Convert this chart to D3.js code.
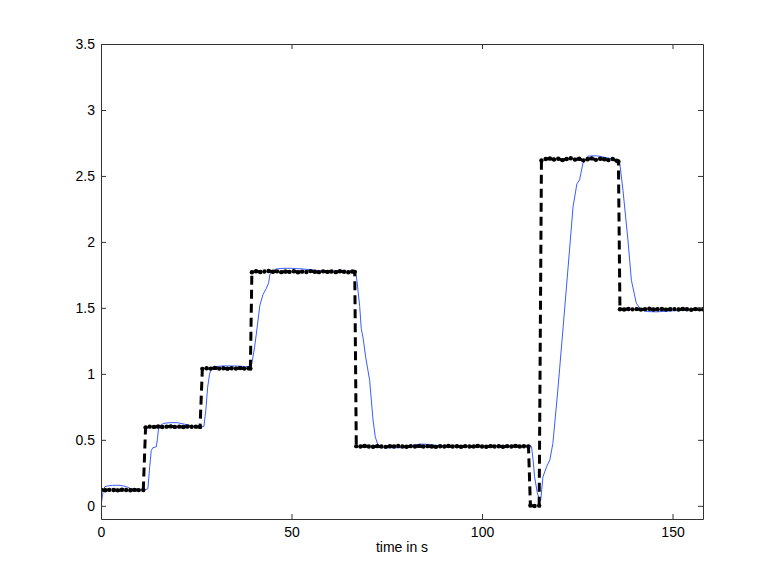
<!DOCTYPE html>
<html>
<head>
<meta charset="utf-8">
<script src="https://cdn.jsdelivr.net/npm/d3@7"></script>
<style>
  body { margin: 0; background: #fff; }
  svg { font-family: "Liberation Sans", Arial, Helvetica, sans-serif; }
</style>
</head>
<body>
<div id="chart"></div>
<script>
// measured output (blue), [time, value]
var output = [
    [0,0],[0.5,0.1],[1,0.145],[2,0.152],[3,0.155],[4,0.156],[5,0.155],[6,0.15],[7,0.14],[8,0.128],
    [9,0.122],[10,0.12],[11.5,0.12],[12.3,0.13],[12.8,0.3],[13.2,0.42],[13.6,0.44],[14.5,0.447],[14.8,0.5],
    [15.1,0.587],[15.6,0.61],[16.5,0.625],[18,0.63],[20,0.63],[22,0.618],[24,0.605],[26,0.6],[27,0.6],
    [27.5,0.72],[28,0.9],[28.5,1.0],[29,1.04],[30,1.055],[32,1.06],[35,1.06],[38,1.055],[39.3,1.05],
    [39.6,1.08],[40.3,1.2],[40.8,1.31],[41.7,1.52],[42.5,1.6],[43.4,1.648],[44,1.69],[44.3,1.75],[45,1.78],
    [46,1.795],[48,1.8],[50,1.8],[53,1.795],[56,1.785],[60,1.78],[64,1.778],[66.8,1.775],[67.2,1.7],
    [67.9,1.51],[68.3,1.345],[68.8,1.27],[69.5,1.12],[70.5,0.953],[71.4,0.65],[72,0.52],[72.7,0.46],
    [73.5,0.445],[75,0.44],[78,0.44],[80,0.443],[82,0.46],[84,0.468],[86,0.465],[88,0.458],[92,0.455],
    [100,0.455],[108,0.455],[112.8,0.455],[113,0.447],[113.4,0.35],[113.8,0.22],[114.5,0.1],[115.1,0.043],
    [115.4,0.04],[116,0.22],[117,0.3],[117.8,0.347],[118.6,0.473],[119.9,0.877],[121.3,1.357],[122.6,1.81],
    [123.9,2.267],[124.9,2.44],[125.6,2.47],[126.5,2.596],[127.8,2.65],[130,2.653],[133.5,2.634],
    [135.5,2.62],[136.1,2.61],[137,2.39],[138.3,2.015],[139.2,1.71],[140.5,1.535],[141.8,1.484],
    [143.5,1.472],[145.8,1.47],[150,1.478],[155,1.485],[158,1.49]
];

// reference samples (black, dashed with dots), [time, value]
var reference = [
    [0,.122],[1.1,.118],[2.2,.121],[3.3,.12],[4.4,.117],[5.5,.122],[6.6,.12],[7.7,.118],[8.8,.121],[9.9,.119],[11.1,.12],
    [11.7,.593],[12.8,.6],[13.9,.598],[15.0,.601],[16.1,.597],[17.2,.6],[18.3,.602],[19.4,.598],[20.5,.6],[21.6,.597],
    [22.7,.601],[23.8,.599],[24.9,.6],[26.0,.598],
    [26.6,1.038],[27.7,1.042],[28.8,1.04],[29.9,1.045],[31.0,1.04],[32.1,1.043],[33.2,1.039],[34.3,1.042],[35.4,1.04],
    [36.5,1.044],[37.6,1.04],[38.7,1.042],[39.2,1.04],
    [39.6,1.77],[40.7,1.778],[41.8,1.772],[42.9,1.776],[44.0,1.78],[45.1,1.774],[46.2,1.777],[47.3,1.771],[48.4,1.776],
    [49.5,1.773],[50.6,1.778],[51.7,1.77],[52.8,1.775],[53.9,1.772],[55.0,1.779],[56.1,1.774],[57.2,1.771],[58.3,1.777],
    [59.4,1.773],[60.5,1.776],[61.6,1.771],[62.7,1.778],[63.8,1.774],[64.9,1.77],[66.0,1.776],[66.6,1.773],
    [67.0,.452],[68.1,.449],[69.2,.453],[70.3,.45],[71.4,.448],[72.5,.452],[73.6,.45],[74.7,.447],[75.8,.451],[76.9,.449],
    [78.0,.453],[79.1,.45],[80.2,.448],[81.3,.452],[82.4,.45],[83.5,.454],[84.6,.449],[85.7,.452],[86.8,.45],[87.9,.447],
    [89.0,.451],[90.1,.45],[91.2,.453],[92.3,.449],[93.4,.451],[94.5,.448],[95.6,.452],[96.7,.45],[97.8,.449],[98.9,.453],
    [100.0,.45],[101.1,.448],[102.2,.452],[103.3,.45],[104.4,.451],[105.5,.448],[106.6,.452],[107.7,.45],[108.8,.453],
    [109.9,.449],[111.0,.451],[112.2,.45],
    [112.7,0.002],[113.8,-0.002],[115.0,0.001],
    [115.6,2.618],[116.7,2.628],[117.8,2.632],[118.9,2.625],[120.0,2.63],[121.1,2.62],[122.2,2.628],[123.3,2.634],
    [124.4,2.624],[125.5,2.63],[126.6,2.618],[127.7,2.627],[128.8,2.633],[129.9,2.622],[131.0,2.63],[132.1,2.626],
    [133.2,2.62],[134.3,2.628],[135.4,2.615],[135.8,2.61],
    [136.2,1.49],[137.3,1.488],[138.4,1.492],[139.5,1.489],[140.6,1.491],[141.7,1.487],[142.8,1.49],[143.9,1.493],
    [145.0,1.488],[146.1,1.49],[147.2,1.492],[148.3,1.487],[149.4,1.49],[150.5,1.491],[151.6,1.488],[152.7,1.492],
    [153.8,1.49],[154.9,1.486],[156.0,1.491],[157.1,1.489],[158,1.49]
];

var xTicks = [0, 50, 100, 150];
var yTicks = [0, 0.5, 1, 1.5, 2, 2.5, 3, 3.5];
var xLabel = "time in s";

var W = 777, H = 584;
var margin = {top: 44, right: 74, bottom: 65, left: 101},
    width = W - margin.left - margin.right,
    height = H - margin.top - margin.bottom;

var svg = d3.select("#chart").append("svg")
    .attr("width", W)
    .attr("height", H);

var g = svg.append("g")
    .attr("transform", "translate(" + margin.left + "," + margin.top + ")");

var x = d3.scaleLinear().domain([0, 158]).range([0, width]);
var y = d3.scaleLinear().domain([-0.1, 3.5]).range([height, 0]);

g.append("clipPath").attr("id", "clip")
    .append("rect").attr("width", width).attr("height", height);

var line = d3.line()
    .x(function(d) { return x(d[0]); })
    .y(function(d) { return y(d[1]); });

var plot = g.append("g").attr("clip-path", "url(#clip)");

plot.append("path")
    .datum(output)
    .attr("fill", "none")
    .attr("stroke", "#3a5cff")
    .attr("stroke-width", 1)
    .attr("d", line);

plot.append("path")
    .datum(reference)
    .attr("fill", "none")
    .attr("stroke", "#000")
    .attr("stroke-width", 3)
    .attr("stroke-dasharray", "9,5")
    .attr("d", line);

plot.selectAll("circle.ref")
    .data(reference)
    .enter().append("circle")
    .attr("class", "ref")
    .attr("cx", function(d) { return x(d[0]); })
    .attr("cy", function(d) { return y(d[1]); })
    .attr("r", 2.2)
    .attr("fill", "#000");

// axes: ticks point inward on all four sides (box style)
function styleAxis(sel) {
    sel.selectAll("path.domain").attr("stroke", "#333");
    sel.selectAll(".tick line").attr("stroke", "#333");
    sel.selectAll("text").attr("fill", "#000").style("font-size", "14px");
}

g.append("g")
    .attr("transform", "translate(0," + height + ")")
    .call(d3.axisBottom(x).tickValues(xTicks).tickSize(-5).tickSizeOuter(0).tickPadding(8))
    .call(styleAxis);

g.append("g")
    .call(d3.axisTop(x).tickValues(xTicks).tickSize(-5).tickSizeOuter(0).tickFormat(""))
    .call(styleAxis);

g.append("g")
    .call(d3.axisLeft(y).tickValues(yTicks).tickSize(-5).tickSizeOuter(0).tickPadding(6).tickFormat(d3.format("")))
    .call(styleAxis);

g.append("g")
    .attr("transform", "translate(" + width + ",0)")
    .call(d3.axisRight(y).tickValues(yTicks).tickSize(-5).tickSizeOuter(0).tickFormat(""))
    .call(styleAxis);

g.append("text")
    .attr("x", width / 2)
    .attr("y", height + 33)
    .attr("text-anchor", "middle")
    .style("font-size", "14px")
    .text(xLabel);
</script>
</body>
</html>
